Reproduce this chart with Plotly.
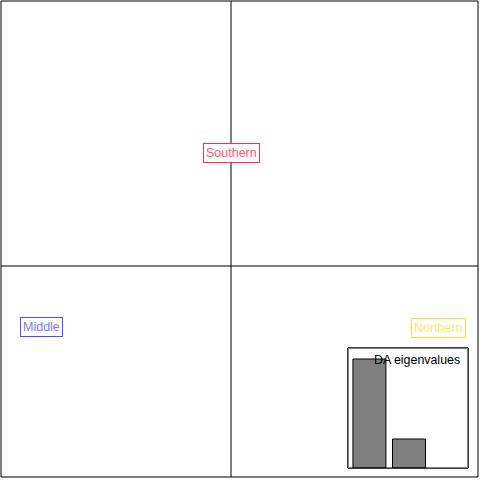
import plotly.graph_objects as go

# Group centroids on the discriminant axes
groups = ["Southern", "Middle", "Northern"]
ld1 = [0.0, -3.8, 4.14]
ld2 = [2.26, -1.22, -1.24]
border_colors = ["#FF3333", "#4D4DFF", "#FFD92E"]
text_colors = ["#FF5A72", "#7A7AFF", "#FFE36B"]

# DA eigenvalues inset
eig_index = [1, 2]
eig_values = [100.0, 26.6]

W = H = 480
def px(v):
    return v / W
def py(v):
    return (H - v) / H

fig = go.Figure()

fig.add_trace(go.Scatter(x=ld1, y=ld2, mode="markers", marker=dict(opacity=0),
                         hoverinfo="skip", showlegend=False, xaxis="x", yaxis="y"))

bar_pos = [0.7 + 1.2 * (i - 1) for i in eig_index]
fig.add_trace(go.Bar(x=bar_pos, y=eig_values, width=1.0,
                     marker=dict(color="#808080", line=dict(color="black", width=1)),
                     showlegend=False, xaxis="x2", yaxis="y2"))

x_range = [(1 - 231) * 0.02, (478 - 231) * 0.02]
y_range = [(266 - 477) * 0.02, (266 - 1) * 0.02]

fig.update_layout(
    width=W, height=H,
    margin=dict(l=0, r=0, t=0, b=0),
    paper_bgcolor="white", plot_bgcolor="white",
    xaxis=dict(domain=[px(1), px(478)], range=x_range, visible=False, fixedrange=True),
    yaxis=dict(domain=[py(477), py(1)], range=y_range, visible=False, fixedrange=True),
    xaxis2=dict(domain=[px(348), px(468)], range=[0.05, 3.69], visible=False, anchor="y2"),
    yaxis2=dict(domain=[py(468), py(348)], range=[0, 110.1], visible=False, anchor="x2"),
    font=dict(family="Liberation Sans, Arial, sans-serif", size=12, color="black"),
)

shapes = [
    dict(type="rect", xref="paper", yref="paper", x0=px(1), x1=px(478), y0=py(477), y1=py(1),
         line=dict(color="black", width=1), layer="above"),
    dict(type="line", xref="x", yref="paper", x0=0, x1=0, y0=py(477), y1=py(1),
         line=dict(color="black", width=1), layer="below"),
    dict(type="line", xref="paper", yref="y", x0=px(1), x1=px(478), y0=0, y1=0,
         line=dict(color="black", width=1), layer="below"),
    dict(type="rect", xref="paper", yref="paper", x0=px(348), x1=px(468), y0=py(468), y1=py(348),
         line=dict(color="black", width=1), fillcolor="white", layer="below"),
    dict(type="rect", xref="paper", yref="paper", x0=px(348), x1=px(468), y0=py(468), y1=py(348),
         line=dict(color="black", width=1), layer="above"),
]
fig.update_layout(shapes=shapes)

anns = []
for g, x, y, bc, tc in zip(groups, ld1, ld2, border_colors, text_colors):
    anns.append(dict(x=x, y=y, xref="x", yref="y", text=g, showarrow=False,
                     font=dict(size=12.5, color=tc), bgcolor="white",
                     bordercolor=bc, borderwidth=1, borderpad=2))
anns.append(dict(x=px(462), y=py(360), xref="paper", yref="paper", text="DA eigenvalues",
                 showarrow=False, xanchor="right", yanchor="middle",
                 font=dict(size=12.4, color="black")))
fig.update_layout(annotations=anns)

fig.write_html("out.html")
